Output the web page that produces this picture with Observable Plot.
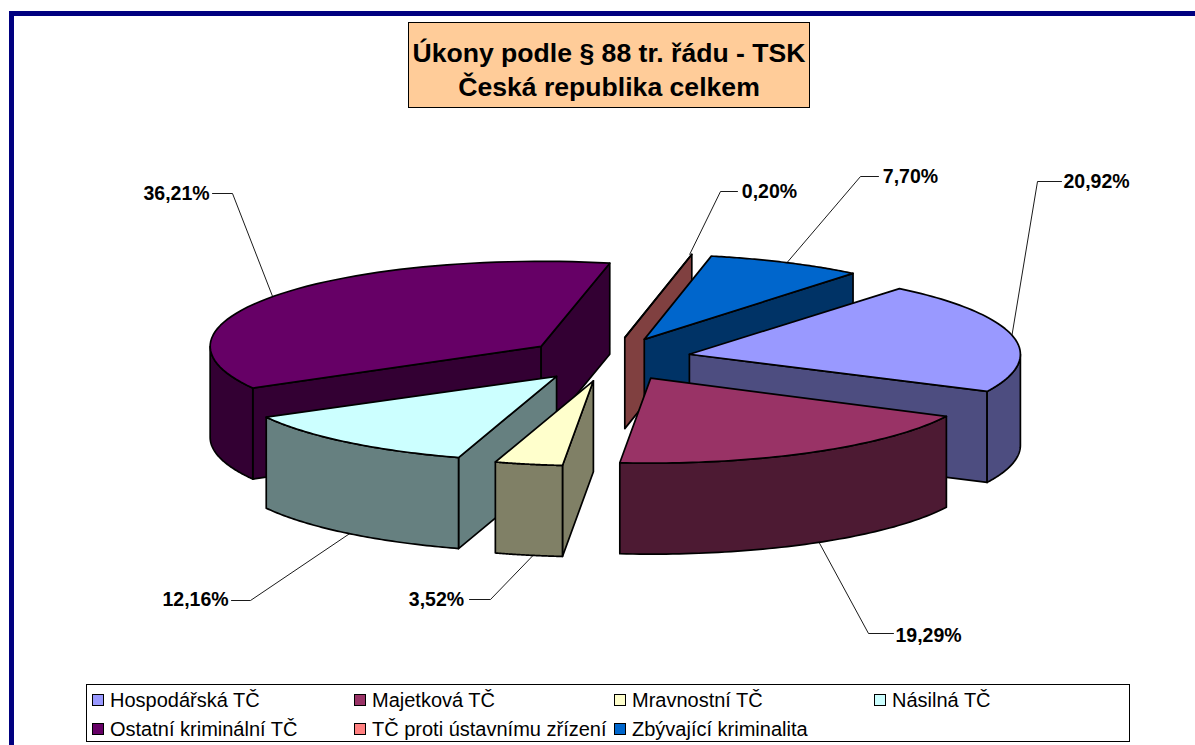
<!DOCTYPE html>
<html lang="cs">
<head>
<meta charset="utf-8">
<script src="https://cdn.jsdelivr.net/npm/d3@7"></script>
<script src="https://cdn.jsdelivr.net/npm/@observablehq/plot@0.6"></script>
<style>
  html, body { margin: 0; padding: 0; background: #fff; overflow: hidden; }
  body { width: 1195px; height: 745px; position: relative; font-family: "Liberation Sans", Arial, sans-serif; color: #000; }
  #frame { position: absolute; left: 9px; top: 11px; right: 0; bottom: 0; border-left: 5px solid #000080; border-top: 5px solid #000080; }
  #title { position: absolute; left: 408px; top: 22px; width: 402px; height: 86px; box-sizing: border-box; background: #FFCC99; border: 1px solid #000;
           font-weight: bold; font-size: 26.6px; line-height: 34px; text-align: center; padding-top: 13px; white-space: nowrap; }
  #chart { position: absolute; left: 14px; top: 120px; }
  #legend { position: absolute; left: 86px; top: 684px; width: 1044px; height: 58px; box-sizing: border-box; border: 1px solid #000; background: #fff; font-size: 20px; }
  .item { position: absolute; white-space: nowrap; line-height: 24px; height: 24px; }
  .swatch { position: absolute; left: 0; top: 6px; width: 12px; height: 12px; box-sizing: border-box; border: 1.5px solid #000; }
  .item span:last-child { margin-left: 18px; }
</style>
</head>
<body>
<div id="frame"></div>
<div id="title">Úkony podle § 88 tr. řádu - TSK<br>Česká republika celkem</div>
<div id="chart"></div>
<div id="legend"></div>
<script>
// ---- data ----
const categories = ["Hospodářská TČ", "Majetková TČ", "Mravnostní TČ", "Násilná TČ", "Ostatní kriminální TČ", "TČ proti ústavnímu zřízení", "Zbývající kriminalita"];
const values = [20.92, 19.29, 3.52, 12.16, 36.21, 0.20, 7.70];
const labels = ["20,92%", "19,29%", "3,52%", "12,16%", "36,21%", "0,20%", "7,70%"];
const colors = ["#9999FF", "#993366", "#FFFFCC", "#CCFFFF", "#660066", "#FF8080", "#0066CC"];
const wallColors = ["#4D4D80", "#4D1A33", "#808066", "#668080", "#330033", "#804040", "#003366"];
const drawOrder = [4, 5, 6, 0, 3, 2, 1];

// ---- layout of the tilted pie (pixels of the scales below) ----
const pie = {cx: 608, cy: 358.7, rx: 331, ry: 85, depth: 91, explode: 83, explodeRatio: 0.265, start: -50.6};
// small corrections (degrees) for the perspective of the original 3D view: [start edge, end edge]
const viewNudge = [[0, 1.2], [2, 1.2], [1.2, 0.4], [0.4, 0.7], [0, 1], [0.72, 0], [0, -0.3]];
const labelPos = [[1096, 181], [928, 635], [436, 599], [195, 599], [176, 193], [769, 191], [910, 176]];
const elbowPos = [[1037, 181], [868, 633], [490, 599], [250, 600], [232, 193], [720, 191], [860, 176]];
const leaderEnd = [[1061, 181], [893, 633], [469, 599], [231, 600], [212, 193], [737, 191], [878, 176]];

const rad = d => d * Math.PI / 180;
let acc = pie.start;
const slices = values.map((v, i) => {
  const a0 = acc, a1 = acc + v * 3.6; acc = a1;
  const mid = (a0 + a1) / 2;
  const ax = pie.cx + pie.explode * Math.cos(rad(mid));
  const ay = pie.cy + pie.explode * pie.explodeRatio * Math.sin(rad(mid));
  return {i, a0: a0 + viewNudge[i][0], a1: a1 + viewNudge[i][1], mid, ax, ay};
});
const rim = (s, a) => [s.ax + pie.rx * Math.cos(rad(a)), s.ay + pie.ry * Math.sin(rad(a))];
const arc = (s, a, b) => d3.range(0, 61).map(k => rim(s, a + (b - a) * k / 60));

const polys = [];
const add = (pts, fill) => polys.push({pts, fill});
for (const i of drawOrder) {
  const s = slices[i];
  const wall = wallColors[i], D = pie.depth;
  const A = [s.ax, s.ay], Ad = [s.ax, s.ay + D];
  const radial = a => { const p = rim(s, a); add([A, p, [p[0], p[1] + D], Ad], wall); };
  if (Math.sin(rad(s.a0 - 90)) > 0) radial(s.a0);   // cut faces that look towards the viewer
  if (Math.sin(rad(s.a1 + 90)) > 0) radial(s.a1);
  const lo = Math.max(s.a0, 0), hi = Math.min(s.a1, 180);   // front part of the rim
  if (hi > lo) {
    const top = arc(s, lo, hi);
    add([...top, ...top.slice().reverse().map(p => [p[0], p[1] + D])], wall);
  }
  add([A, ...arc(s, s.a0, s.a1)], colors[i]);       // top face
}
const polyPoints = polys.flatMap((p, id) => p.pts.map(([x, y]) => ({x, y, id, fill: p.fill})));

const leaders = slices.flatMap((s, i) => {
  const p = rim(s, s.mid);
  const front = Math.sin(rad(s.mid)) > 0 ? pie.depth : 0;
  return [
    {x: p[0], y: p[1] + front, id: i},
    {x: elbowPos[i][0], y: elbowPos[i][1], id: i},
    {x: leaderEnd[i][0], y: leaderEnd[i][1], id: i}
  ];
});
const labelRows = labels.map((t, i) => ({t, x: labelPos[i][0], y: labelPos[i][1]}));

const plot = Plot.plot({
  width: 1181, height: 560,
  marginLeft: 0, marginRight: 0, marginTop: 0, marginBottom: 0,
  x: {domain: [14, 1195], range: [0, 1181], axis: null},
  y: {domain: [120, 680], range: [0, 560], axis: null},
  color: {type: "identity"},
  style: {background: "transparent", fontFamily: "'Liberation Sans', Arial, sans-serif"},
  marks: [
    Plot.line(leaders, {x: "x", y: "y", z: "id", stroke: "#000", strokeWidth: 0.9, curve: "linear"}),
    Plot.line(polyPoints, {x: "x", y: "y", z: "id", fill: "fill", stroke: "#000", strokeWidth: 1.7, strokeLinejoin: "round", curve: "linear-closed"}),
    Plot.text(labelRows, {x: "x", y: "y", text: "t", fontSize: 19.5, fontWeight: "bold", fill: "#000"})
  ]
});
document.getElementById("chart").appendChild(plot);

// ---- legend ----
const legendCols = [5, 267, 527, 787];
const legendRows = [3, 32];
const legend = document.getElementById("legend");
categories.forEach((c, i) => {
  const d = document.createElement("div");
  d.className = "item";
  d.style.left = legendCols[i % 4] + "px";
  d.style.top = legendRows[Math.floor(i / 4)] + "px";
  const sw = document.createElement("span");
  sw.className = "swatch";
  sw.style.background = colors[i];
  const tx = document.createElement("span");
  tx.textContent = c;
  d.append(sw, tx);
  legend.appendChild(d);
});
</script>
</body>
</html>
